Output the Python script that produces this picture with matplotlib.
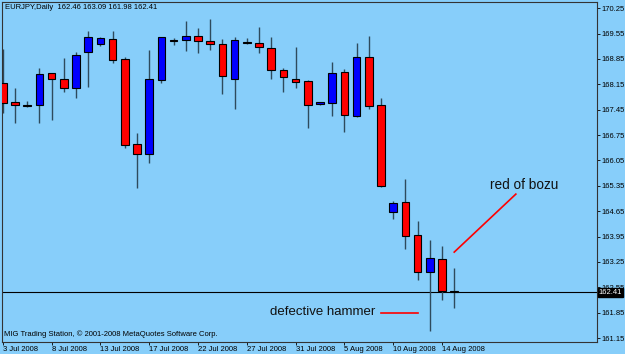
import matplotlib
matplotlib.use("Agg")
import matplotlib.pyplot as plt
import numpy as np

# EURJPY daily candles, 3 Jul 2008 .. 15 Aug 2008
opens = [168.18, 167.66, 167.55, 167.57, 168.46, 168.29, 168.04, 169.04, 169.26, 169.40,
         168.84, 166.50, 166.22, 168.26, 169.34, 169.37, 169.48, 169.33, 169.27, 168.29,
         169.29, 169.30, 169.15, 168.54, 168.29, 168.24, 167.60, 167.63, 168.49, 167.27,
         168.90, 167.57, 164.63, 164.89, 163.98, 162.98, 163.33, 162.46]
highs = [169.12, 168.04, 167.69, 168.60, 168.47, 168.87, 169.04, 169.62, 169.45, 169.62,
         168.90, 166.80, 169.09, 169.45, 169.42, 169.89, 169.70, 169.95, 169.40, 169.45,
         169.42, 169.73, 169.45, 168.60, 169.17, 168.26, 167.66, 168.76, 168.57, 169.28,
         169.48, 167.77, 164.94, 165.54, 164.39, 163.85, 163.69, 163.09]
lows = [167.35, 167.08, 167.52, 167.08, 167.16, 167.93, 167.77, 168.07, 169.20, 168.73,
        166.39, 165.29, 165.98, 168.18, 169.23, 169.06, 169.01, 169.09, 167.88, 167.46,
        169.26, 169.01, 168.29, 167.93, 168.04, 166.94, 167.57, 167.27, 166.83, 167.24,
        167.46, 165.31, 164.44, 163.60, 162.76, 161.35, 162.19, 161.98]
closes = [167.63, 167.57, 167.54, 168.43, 168.29, 168.04, 168.95, 169.45, 169.42, 168.82,
          166.47, 166.22, 168.29, 169.45, 169.37, 169.48, 169.34, 169.27, 168.37, 169.37,
          169.30, 169.17, 168.54, 168.35, 168.21, 167.57, 167.66, 168.46, 167.30, 168.90,
          167.55, 165.34, 164.88, 163.96, 162.98, 163.36, 162.45, 162.41]

date_labels = ["3 Jul 2008", "8 Jul 2008", "13 Jul 2008", "17 Jul 2008", "22 Jul 2008",
               "27 Jul 2008", "31 Jul 2008", "5 Aug 2008", "10 Aug 2008", "14 Aug 2008"]
price_ticks = [170.25, 169.55, 168.85, 168.15, 167.45, 166.75, 166.05, 165.35,
               164.65, 163.95, 163.25, 162.55, 161.85, 161.15]
last_price = 162.41

BG = "#87CEFA"
WICK = "#2e4a5c"
FONT = "Liberation Sans"

fig = plt.figure(figsize=(6.25, 3.54), dpi=100, facecolor=BG)
ax = fig.add_axes([0.0032, 0.0339, 0.952, 0.9605], facecolor=BG)

x = np.arange(len(opens))
o = np.array(opens)
c = np.array(closes)
up = c >= o
colors = np.where(up, "#0000FF", "#FF0000")

ax.vlines(x, lows, highs, color=WICK, linewidth=1.0, zorder=2)
body_bottom = np.minimum(o, c)
body_height = np.maximum(np.abs(c - o), 0.03)
ax.bar(x, body_height, bottom=body_bottom, width=0.62, color=colors,
       edgecolor="black", linewidth=0.8, zorder=3)

ax.axhline(last_price, color="black", linewidth=0.8, zorder=1)

ax.set_xlim(-0.06, 48.7)
ax.set_ylim(161.04, 170.42)

# right-hand price scale
ax.yaxis.tick_right()
ax.set_yticks(price_ticks)
ax.set_yticklabels([f"{p:.2f}" for p in price_ticks], fontsize=5.5, family=FONT)
ax.tick_params(axis="y", direction="out", length=2, width=0.6, pad=1.5, colors="black")

# bottom date scale, labels start at the tick
ax.set_xticks(x[::4])
ax.set_xticklabels(date_labels, fontsize=5.5, family=FONT, ha="left")
ax.tick_params(axis="x", direction="out", length=2, width=0.6, pad=1, colors="black")

for side in ["left", "right", "top", "bottom"]:
    ax.spines[side].set_color("#333333")
    ax.spines[side].set_linewidth(0.8)

# price box on the scale (covers the scale label behind it, as in MT4)
ax.text(1.003, (last_price - 161.04) / (170.42 - 161.04), f"{last_price:.2f}",
        transform=ax.transAxes, fontsize=5.5, family=FONT, color="white",
        va="center", ha="left", zorder=10, clip_on=False,
        bbox=dict(boxstyle="square,pad=0.15", facecolor="black", edgecolor="black"))

ax.text(0.005, 0.993, "EURJPY,Daily  162.46 163.09 161.98 162.41", transform=ax.transAxes,
        fontsize=5.5, family=FONT, va="top", ha="left")
ax.text(0.004, 0.022, "MIG Trading Station, \u00a9 2001-2008 MetaQuotes Software Corp.",
        transform=ax.transAxes, fontsize=5.5, family=FONT, va="center", ha="left")

# annotations
ax.text(39.9, 165.37, "red of bozu", fontsize=9.8, family=FONT, va="center", ha="left",
        color="#111111")
ax.plot([37.0, 42.05], [163.52, 165.12], color="red", linewidth=1.2)
ax.text(21.9, 161.88, "defective hammer", fontsize=9.5, family=FONT, va="center", ha="left",
        color="#111111")
ax.plot([31.0, 34.0], [161.85, 161.85], color="red", linewidth=1.2)

fig.savefig("out.png", dpi=100, facecolor=BG)
